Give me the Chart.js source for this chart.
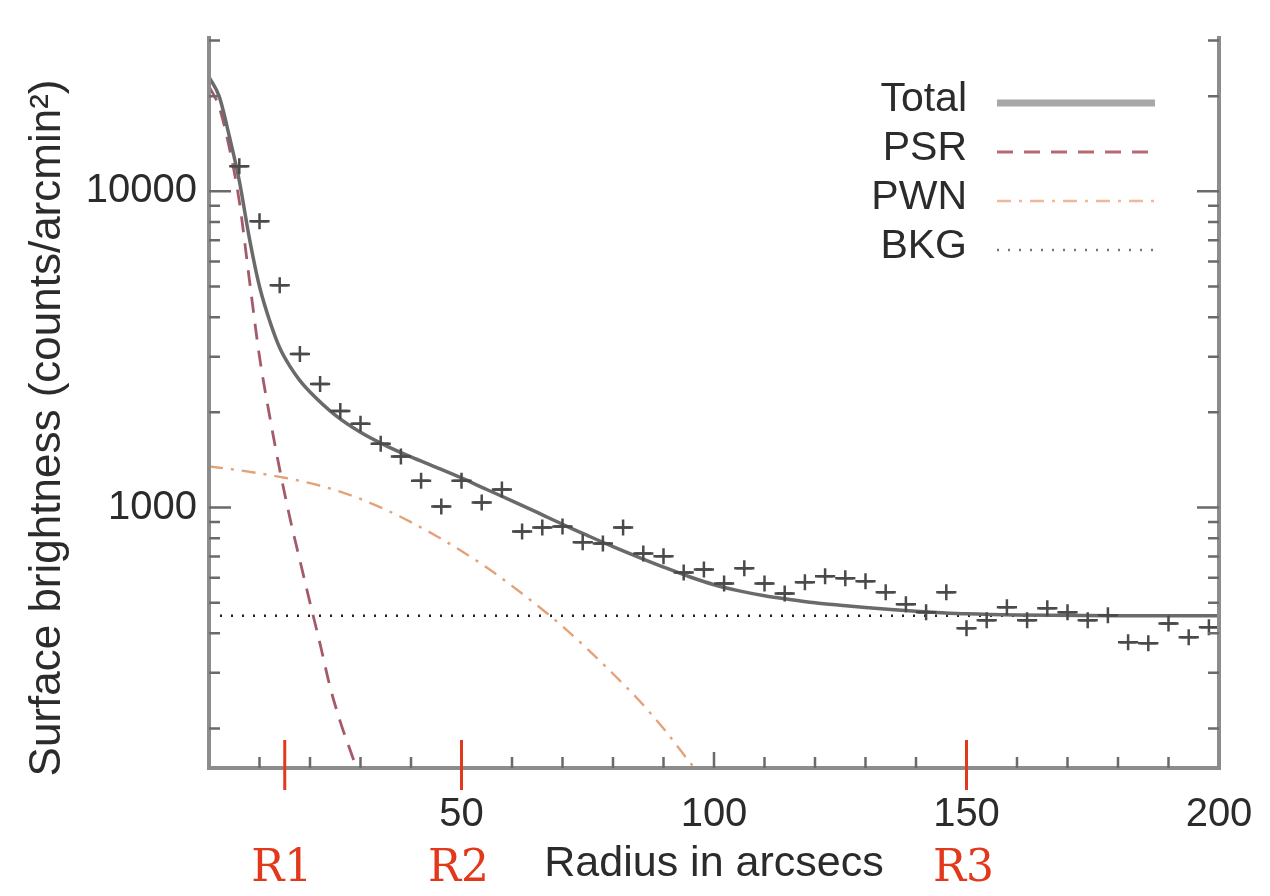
<!DOCTYPE html>
<html>
<head>
<meta charset="utf-8">
<script src="https://cdn.jsdelivr.net/npm/chart.js@4.4.1/dist/chart.umd.min.js"></script>
<style>
  html, body { margin: 0; padding: 0; background: #fff; }
  #wrap { width: 1270px; height: 896px; }
</style>
</head>
<body>
<div id="wrap"><canvas id="sbChart" width="1270" height="896"></canvas></div>
<script>
// radial profile: bin centres (arcsec) and measured surface brightness
const radius = [6, 10, 14, 18, 22, 26, 30, 34, 38, 42, 46, 50, 54, 58, 62, 66, 70, 74, 78, 82,
                86, 90, 94, 98, 102, 106, 110, 114, 118, 122, 126, 130, 134, 138, 142, 146, 150, 154, 158, 162,
                166, 170, 174, 178, 182, 186, 190, 194, 198];
const brightness = [12000, 8040, 5050, 3060, 2460, 2020, 1840, 1590, 1450, 1216, 1007, 1216, 1037, 1140, 840, 865, 871, 776, 770, 865,
                    716, 701, 623, 637, 575, 642, 575, 535, 580, 606, 597, 584, 539, 494, 466, 539, 415, 440, 484, 440,
                    480, 466, 440, 456, 375, 372, 430, 389, 418];
const binHalfWidth = 2;

// model components
const totalX = [0, 2, 4, 6, 8, 10, 12, 14, 16, 18, 20, 25, 30, 35, 40, 45, 50, 55, 60, 65,
                70, 75, 80, 85, 90, 95, 100, 105, 110, 115, 120, 125, 130, 135, 140, 145, 150, 160, 180, 200];
const totalY = [23000, 20000, 15000, 10800, 7100, 5000, 3900, 3200, 2800, 2520, 2320, 1960, 1730, 1570, 1445, 1340, 1240, 1140, 1050, 965,
                885, 815, 752, 697, 648, 605, 570, 545, 526, 512, 500, 491, 483, 476, 470, 465, 461, 457, 455, 455];

const psrX = [0, 2, 4, 6, 8, 10, 12, 14, 16, 18, 20, 22, 24, 26, 28, 30];
const psrY = [21500, 18500, 13800, 9300, 5250, 3000, 1950, 1320, 930, 680, 500, 370, 270, 210, 170, 138];

const pwnX = [0, 5, 10, 15, 20, 25, 30, 35, 40, 45, 50, 55, 60, 65, 70, 75, 80, 85, 90, 95, 100];
const pwnY = [1349, 1318, 1282, 1242, 1194, 1135, 1064, 984, 899, 813, 728, 646, 565, 490, 421, 356, 298, 247, 200, 158, 126];

const bkgX = [0, 200];
const bkgY = [455, 455];

// axis labels and annotated radii
const xTicks = [50, 100, 150, 200];
const yTicks = [1000, 10000];
const regionX = [15, 50, 150];
const regionLabels = ['R1', 'R2', 'R3'];

const FONT = '"Liberation Sans", Arial, Helvetica, sans-serif';
const INK = '#2b2b2b';
const Y_TITLE = 'Surface brightness (counts/arcmin\u00b2)';

const pairs = (xs, ys) => xs.map((x, i) => ({ x: x, y: ys[i] }));

// horizontal bars showing the bin width of each measured point
const errorBars = {
    id: 'errorBars',
    afterDatasetsDraw(chart) {
        const ctx = chart.ctx;
        const xs = chart.scales.x;
        const meta = chart.getDatasetMeta(0);
        ctx.save();
        ctx.strokeStyle = '#4a4a4a';
        ctx.lineWidth = 2.5;
        ctx.beginPath();
        meta.data.forEach((pt, i) => {
            ctx.moveTo(xs.getPixelForValue(radius[i] - binHalfWidth), pt.y);
            ctx.lineTo(xs.getPixelForValue(radius[i] + binHalfWidth), pt.y);
        });
        ctx.stroke();
        ctx.restore();
    }
};

// box with inward tick marks (IDL style) + rotated y title
const frame = {
    id: 'frame',
    afterDraw(chart) {
        const { ctx, chartArea: a, scales: { x, y } } = chart;
        ctx.save();
        ctx.strokeStyle = '#8c8c8c';
        ctx.lineWidth = 4;
        ctx.beginPath();
        ctx.moveTo(a.left, a.top);
        ctx.lineTo(a.left, a.bottom);
        ctx.lineTo(a.right, a.bottom);
        ctx.lineTo(a.right, a.top);
        ctx.stroke();

        ctx.strokeStyle = '#6a6a6a';
        ctx.lineWidth = 2.5;
        ctx.beginPath();
        for (let d = 100; d <= 100000; d *= 10) {
            for (let m = 1; m <= 9; m++) {
                const v = d * m;
                if (v < y.min || v > y.max) continue;
                const py = y.getPixelForValue(v);
                const len = m === 1 ? 22 : 11;
                ctx.moveTo(a.left, py); ctx.lineTo(a.left + len, py);
                ctx.moveTo(a.right, py); ctx.lineTo(a.right - len, py);
            }
        }
        for (let v = 10; v < 200; v += 10) {
            const px = x.getPixelForValue(v);
            const len = v % 50 === 0 ? 16 : 11;
            ctx.moveTo(px, a.bottom); ctx.lineTo(px, a.bottom - len);
        }
        ctx.stroke();

        ctx.translate(48, 428);
        ctx.rotate(-Math.PI / 2);
        ctx.font = '44px ' + FONT;
        ctx.fillStyle = INK;
        ctx.textAlign = 'center';
        ctx.textBaseline = 'middle';
        ctx.fillText(Y_TITLE, 0, 0);
        ctx.restore();
    }
};

// red markers for the extraction radii
const regions = {
    id: 'regions',
    afterDraw(chart) {
        const { ctx, chartArea: a, scales: { x } } = chart;
        ctx.save();
        ctx.strokeStyle = '#e2381c';
        ctx.fillStyle = '#e2381c';
        ctx.lineWidth = 3;
        ctx.font = '44px "DejaVu Serif", "Liberation Serif", serif';
        ctx.textAlign = 'center';
        ctx.textBaseline = 'middle';
        regionX.forEach((r, i) => {
            const px = x.getPixelForValue(r);
            ctx.beginPath();
            ctx.moveTo(px, a.bottom - 28);
            ctx.lineTo(px, a.bottom + 22);
            ctx.stroke();
            ctx.fillText(regionLabels[i], px - 3, 870);
        });
        ctx.restore();
    }
};

// legend inside the plot, text right-aligned left of the line sample
const sideLegend = {
    id: 'sideLegend',
    afterDraw(chart) {
        const ctx = chart.ctx;
        ctx.save();
        ctx.font = '41px ' + FONT;
        ctx.fillStyle = INK;
        ctx.textAlign = 'right';
        ctx.textBaseline = 'middle';
        chart.data.datasets.forEach(ds => {
            if (ds.legendRow === undefined) return;
            const yy = 100 + ds.legendRow * 49;
            ctx.fillText(ds.label, 967, yy);
            ctx.strokeStyle = ds.legendColor || ds.borderColor;
            ctx.lineWidth = ds.legendWidth || ds.borderWidth;
            ctx.setLineDash(ds.borderDash || []);
            ctx.beginPath();
            ctx.moveTo(997, yy + 3);
            ctx.lineTo(1155, yy + 3);
            ctx.stroke();
        });
        ctx.restore();
    }
};

const ctx = document.getElementById('sbChart').getContext('2d');
new Chart(ctx, {
    type: 'line',
    data: {
        datasets: [
            {
                label: 'Data',
                data: pairs(radius, brightness),
                showLine: false,
                pointStyle: 'cross',
                pointRadius: 8,
                borderColor: '#4a4a4a',
                borderWidth: 2.5
            },
            {
                label: 'Total',
                data: pairs(totalX, totalY),
                borderColor: '#6a6a6a',
                borderWidth: 3.5,
                pointRadius: 0,
                cubicInterpolationMode: 'monotone',
                legendRow: 0,
                legendColor: '#a8a8a8',
                legendWidth: 7
            },
            {
                label: 'PSR',
                data: pairs(psrX, psrY),
                borderColor: '#a45a68',
                borderWidth: 2.8,
                borderDash: [16, 11],
                pointRadius: 0,
                cubicInterpolationMode: 'monotone',
                legendRow: 1,
                legendColor: '#b86a74'
            },
            {
                label: 'PWN',
                data: pairs(pwnX, pwnY),
                borderColor: '#e4a27a',
                borderWidth: 2.4,
                borderDash: [14, 8, 3, 8],
                pointRadius: 0,
                cubicInterpolationMode: 'monotone',
                legendRow: 2,
                legendColor: '#f0b898'
            },
            {
                label: 'BKG',
                data: pairs(bkgX, bkgY),
                borderColor: '#222',
                borderWidth: 2.5,
                borderDash: [2, 9],
                pointRadius: 0,
                legendRow: 3,
                legendColor: '#777'
            }
        ]
    },
    options: {
        responsive: false,
        animation: false,
        layout: { padding: { top: 36, right: 51, left: 0, bottom: 0 } },
        plugins: { legend: { display: false }, tooltip: { enabled: false } },
        scales: {
            x: {
                type: 'linear',
                min: 0,
                max: 200,
                afterBuildTicks: s => { s.ticks = xTicks.map(v => ({ value: v })); },
                afterFit: s => { s.height = 128; },
                grid: { display: false },
                border: { display: false },
                ticks: { padding: 15, maxRotation: 0, color: INK, font: { family: FONT, size: 40 }, callback: v => String(v) },
                title: { display: true, text: 'Radius in arcsecs', color: INK, font: { family: FONT, size: 43 }, padding: { top: 0, bottom: 6 } }
            },
            y: {
                type: 'logarithmic',
                min: 150,
                max: 31000,
                afterBuildTicks: s => { s.ticks = yTicks.map(v => ({ value: v })); },
                afterFit: s => { s.width = 209; },
                grid: { display: false },
                border: { display: false },
                ticks: { padding: 4, color: INK, font: { family: FONT, size: 40 }, callback: v => String(v) },
                title: { display: false }
            }
        }
    },
    plugins: [errorBars, frame, regions, sideLegend]
});
</script>
</body>
</html>
